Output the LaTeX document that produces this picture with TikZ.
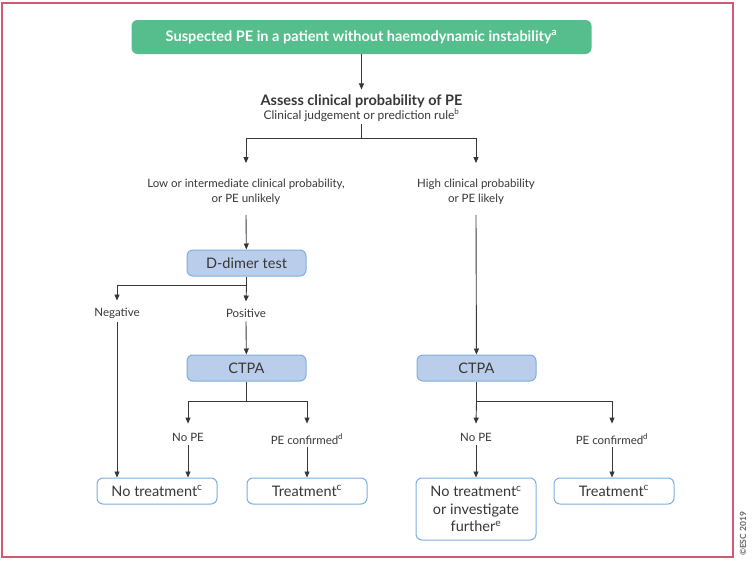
\documentclass[tikz,border=0pt]{standalone}
\usepackage{fontspec}
\setmainfont{Lato}
\usetikzlibrary{positioning, calc, arrows.meta}

\definecolor{escgreen}{RGB}{86,190,140}
\definecolor{testfill}{RGB}{186,205,234}
\definecolor{boxedge}{RGB}{125,175,222}
\definecolor{framered}{RGB}{208,90,112}
\definecolor{txtgray}{RGB}{55,55,55}

\tikzset{
	test/.style={rectangle, rounded corners=6pt, draw=boxedge, fill=testfill, line width=1pt, minimum width=119pt, minimum height=26pt, inner sep=2pt, text=txtgray, font=\fontsize{14.5}{16}\selectfont},
	outcome/.style={rectangle, rounded corners=6pt, draw=boxedge, fill=white, line width=1pt, minimum width=120pt, minimum height=26pt, inner sep=2pt, align=center, text=txtgray, font=\fontsize{14.5}{17.5}\selectfont},
	lbl/.style={align=center, text=txtgray, inner sep=3pt, font=\fontsize{11.5}{15}\selectfont},
	arr/.style={-{Triangle[length=6pt,width=5pt]}, line width=0.9pt, draw=txtgray},
	link/.style={line width=0.9pt, draw=txtgray}
}

\begin{document}
\begin{tikzpicture}[x=1pt, y=-1pt]
		\useasboundingbox (0,0) rectangle (752,562);
		\draw[framered, line width=2pt] (2,2.5) rectangle (732.5,557);
		\node[rotate=90, text=gray!80!black, font=\bfseries\fontsize{8.5}{9}\selectfont] (C) at (743,534) {©ESC 2019};

		\node[rectangle, rounded corners=6pt, fill=escgreen, minimum width=460pt, minimum height=34pt, text=white, font=\bfseries\fontsize{14.5}{16}\selectfont] (S) at (361.5,37) {Suspected PE in a patient without haemodynamic instability\textsuperscript{a}};
		\node[align=center, text=txtgray, inner sep=2pt] (A) at (361.5,108) {{\bfseries\fontsize{14.5}{15}\selectfont Assess clinical probability of PE}\\[0pt]{\fontsize{12}{13}\selectfont Clinical judgement or prediction rule\textsuperscript{b}}};
		\node[lbl] (L) at (246,192) {Low or intermediate clinical probability,\\or PE unlikely};
		\node[lbl] (H) at (476,192) {High clinical probability\\or PE likely};

		\node[test] (D) at (246.5,263) {D-dimer test};
		\node[lbl] (N) at (117,313) {Negative};
		\node[lbl] (P) at (246,313) {Positive};

		\node[test] (T1) at (246.5,368) {CTPA};
		\node[test] (T2) at (476.5,368) {CTPA};

		\node[lbl] (N1) at (188,437) {No PE};
		\node[lbl] (P1) at (307,439) {PE confirmed\textsuperscript{d}};
		\node[lbl] (N2) at (476,437) {No PE};
		\node[lbl] (P2) at (612,439) {PE confirmed\textsuperscript{d}};

		\node[outcome] (O1) at (157,491) {No treatment\textsuperscript{c}};
		\node[outcome] (O2) at (307,491) {Treatment\textsuperscript{c}};
		\node[outcome, minimum height=62pt] (O3) at (476,509) {No treatment\textsuperscript{c}\\or investigate\\further\textsuperscript{e}};
		\node[outcome] (O4) at (614,491) {Treatment\textsuperscript{c}};

		% top of the tree
		\draw[arr] (S) -- ([yshift=3pt]A.north);
		\draw[link] (A.south) -- ++(0,15) coordinate (split);
		\draw[arr] (split) -| ([yshift=13pt]L.north);
		\draw[arr] (split) -| ([yshift=13pt]H.north);

		% low probability branch
		\draw[arr] ([yshift=-7pt]L.south) -- (D);
		\draw[link] (D.south) -- ++(0,9) coordinate (dsplit);
		\draw[arr] (dsplit) -| ([yshift=4pt]N.north);
		\draw[arr] (dsplit) -- ([yshift=4pt]P.north);
		\draw[arr] ([yshift=-1pt]N.south) -- (N.south |- O1.north);
		\draw[arr] ([yshift=-1pt]P.south) -- (T1);
		\draw[link] (T1.south) -- ++(0,20) coordinate (t1split);
		\draw[arr] (t1split) -| ([yshift=6pt]N1.north);
		\draw[arr] (t1split) -| ([yshift=7pt]P1.north);
		\draw[arr] ([yshift=-1pt]N1.south) -- (N1.south |- O1.north);
		\draw[arr] (P1) -- (P1 |- O2.north);

		% high probability branch
		\draw[arr] ([yshift=-7pt]H.south) -- (T2);
		\draw[link] (T2.south) -- ++(0,20) coordinate (t2split);
		\draw[arr] (t2split) -- ([yshift=6pt]N2.north);
		\draw[arr] (t2split) -| ([yshift=7pt]P2.north);
		\draw[arr] ([yshift=-1pt]N2.south) -- (O3);
		\draw[arr] (P2) -- (P2 |- O4.north);
\end{tikzpicture}
\end{document}
